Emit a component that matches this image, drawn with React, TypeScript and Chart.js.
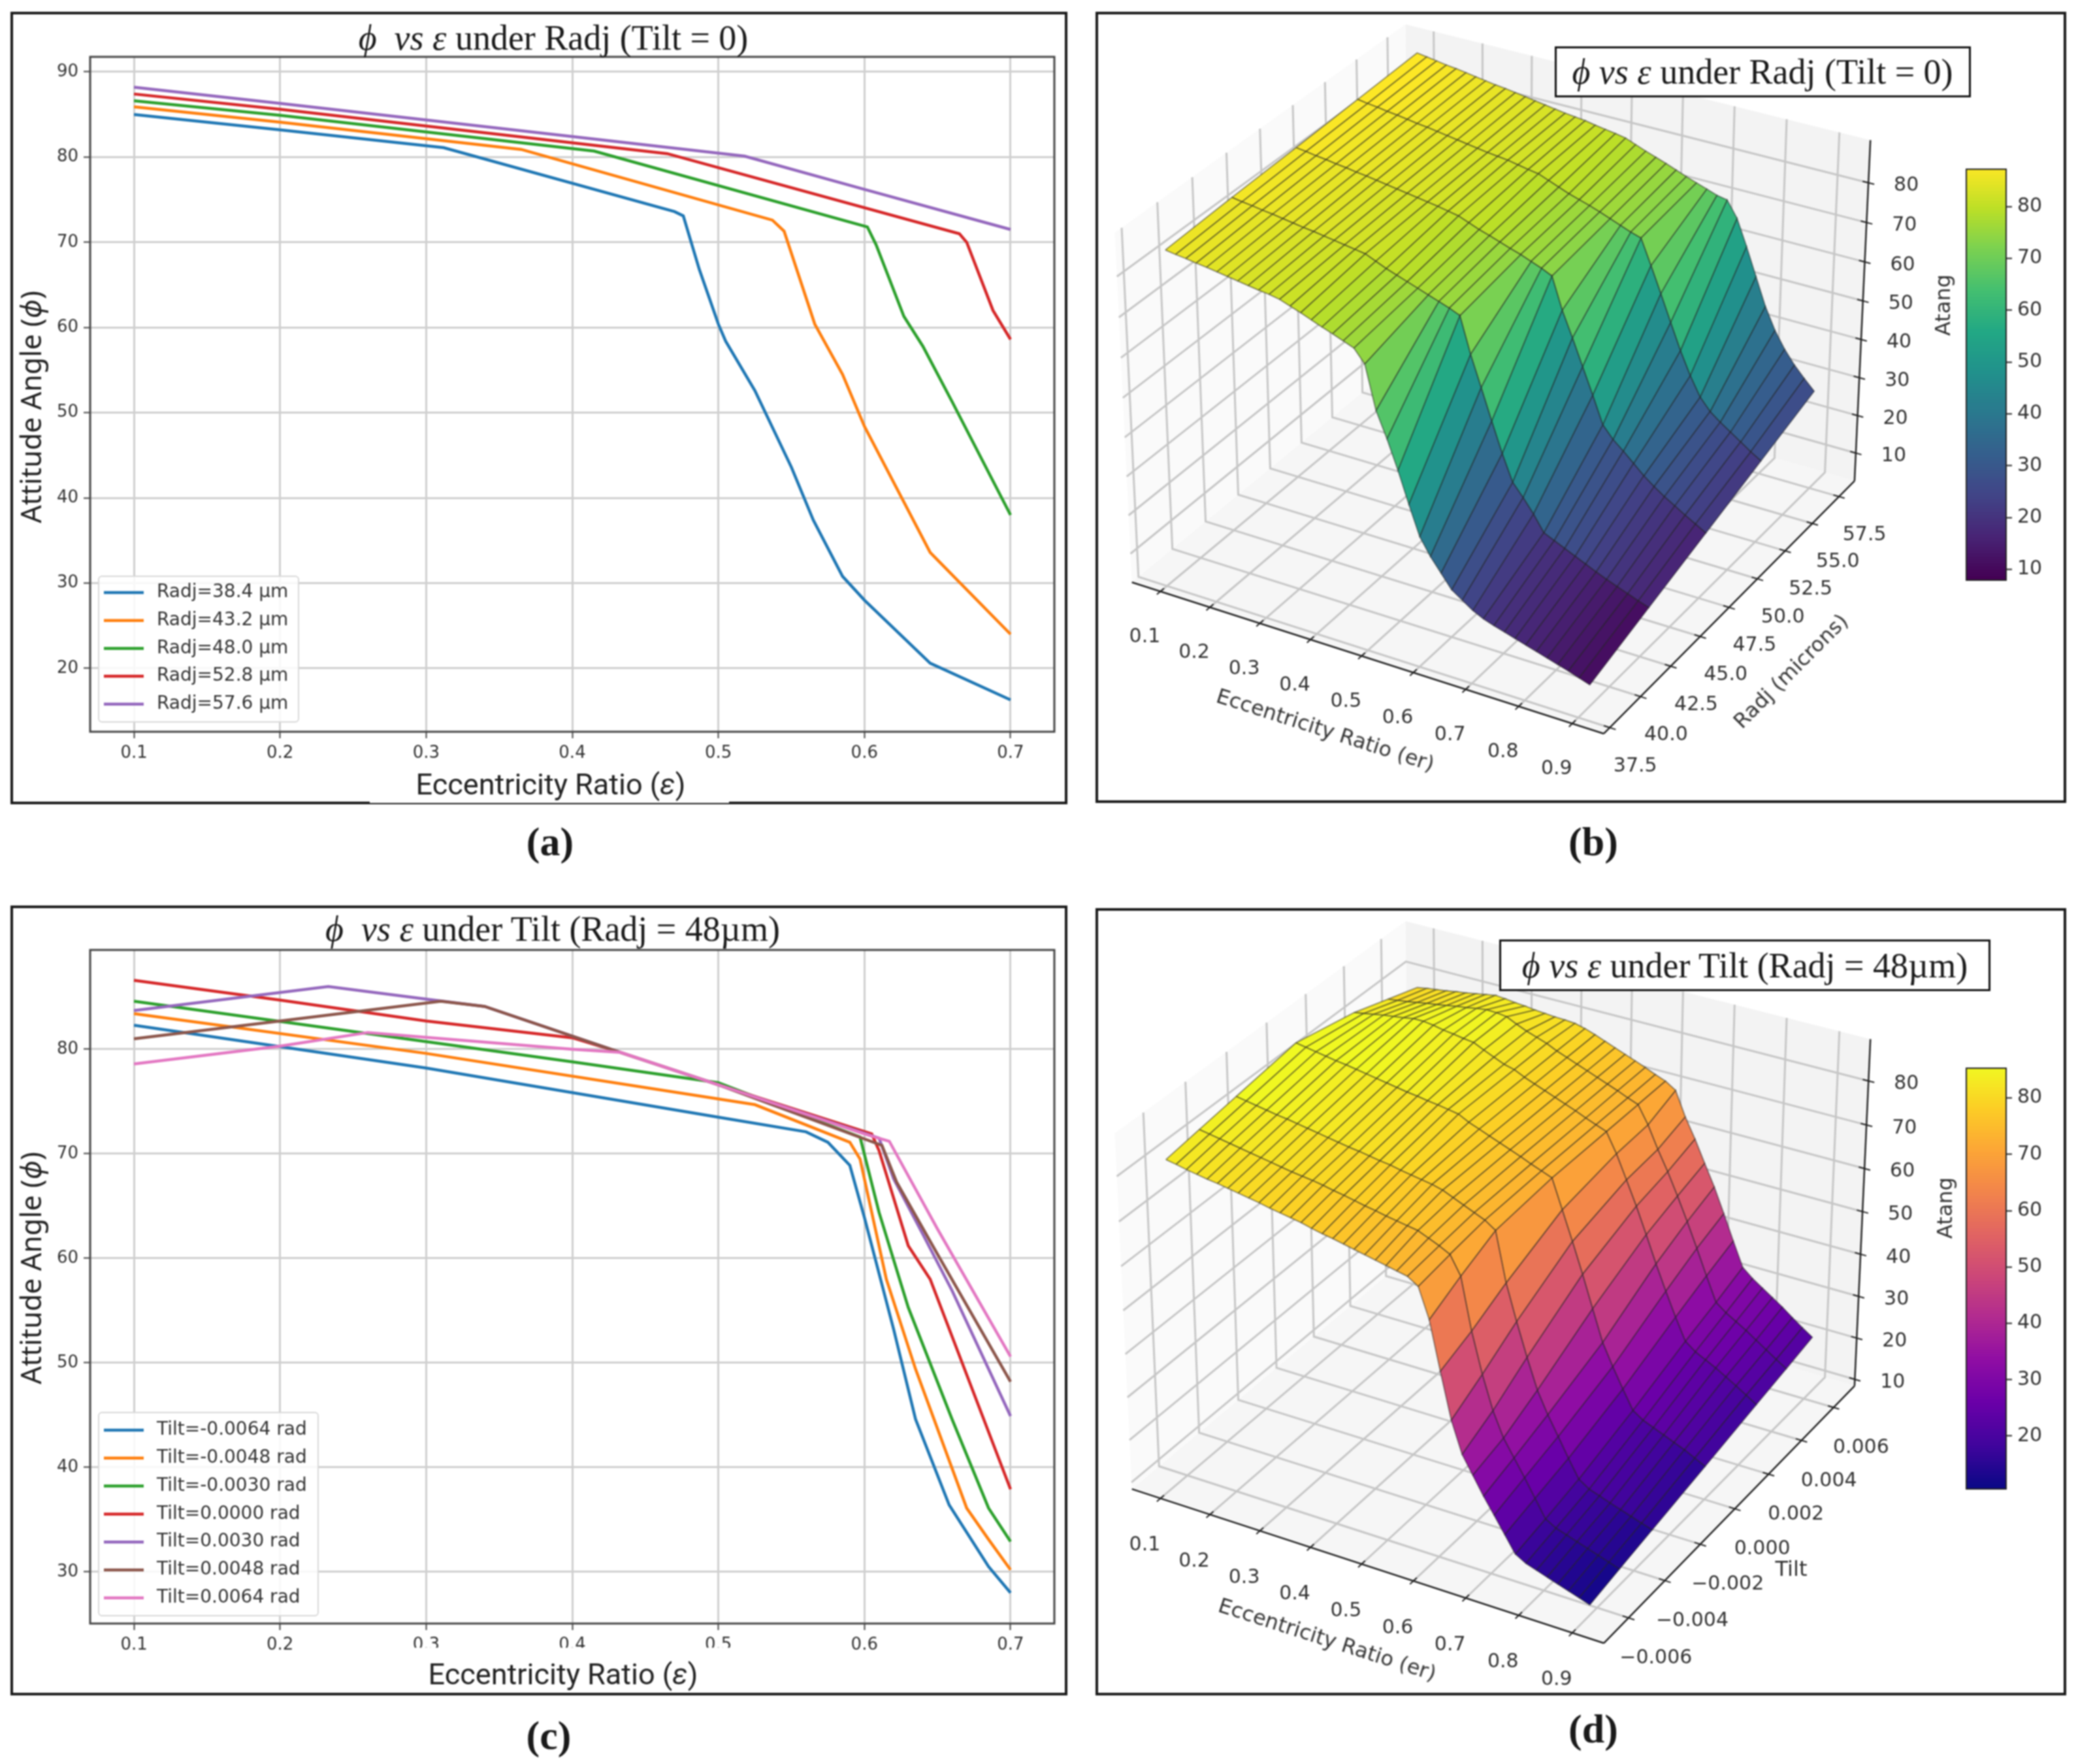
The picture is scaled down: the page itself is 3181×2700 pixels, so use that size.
import { useEffect, useRef, type CSSProperties, type ReactNode } from 'react';
import { Chart, registerables, type ChartConfiguration, type Plugin } from 'chart.js';

Chart.register(...registerables);

const TAB = ['#1f77b4', '#ff7f0e', '#2ca02c', '#d62728', '#9467bd', '#8c564b', '#e377c2'];
const MPL_FONT = '"DejaVu Sans"';

// panel (a): phi vs er, one pair of arrays per Radj
const radjLabels = ['Radj=38.4 µm', 'Radj=43.2 µm', 'Radj=48.0 µm', 'Radj=52.8 µm', 'Radj=57.6 µm'];
const a384Er = [0.1, 0.2, 0.312, 0.47, 0.476, 0.487, 0.5, 0.505, 0.525, 0.55, 0.565, 0.585, 0.6, 0.645, 0.7];
const a384Phi = [85.0, 83.2, 81.1, 73.6, 73.1, 66.8, 60.4, 58.4, 52.6, 43.6, 37.4, 30.8, 28.0, 20.6, 16.3];
const a432Er = [0.1, 0.2, 0.365, 0.537, 0.545, 0.566, 0.585, 0.6, 0.645, 0.7];
const a432Phi = [85.9, 84.1, 80.9, 72.6, 71.3, 60.4, 54.5, 48.4, 33.6, 24.0];
const a480Er = [0.1, 0.2, 0.415, 0.602, 0.608, 0.627, 0.64, 0.66, 0.7];
const a480Phi = [86.6, 84.9, 80.7, 71.8, 69.7, 61.3, 57.8, 51.3, 38.0];
const a528Er = [0.1, 0.2, 0.465, 0.665, 0.67, 0.688, 0.7];
const a528Phi = [87.4, 85.6, 80.4, 71.0, 70.0, 62.0, 58.6];
const a576Er = [0.1, 0.2, 0.4, 0.518, 0.6, 0.7];
const a576Phi = [88.2, 86.3, 82.4, 80.1, 76.2, 71.5];

// panel (c): phi vs er, one pair of arrays per Tilt
const tiltLabels = ['Tilt=-0.0064 rad', 'Tilt=-0.0048 rad', 'Tilt=-0.0030 rad', 'Tilt=0.0000 rad', 'Tilt=0.0030 rad', 'Tilt=0.0048 rad', 'Tilt=0.0064 rad'];
const c1Er = [0.1, 0.3, 0.5, 0.56, 0.575, 0.59, 0.6, 0.62, 0.635, 0.658, 0.685, 0.7];
const c1Phi = [82.3, 78.2, 73.5, 72.1, 71.1, 68.9, 63.9, 53.2, 44.6, 36.4, 30.5, 28.0];
const c2Er = [0.1, 0.3, 0.525, 0.59, 0.597, 0.615, 0.635, 0.67, 0.685, 0.7];
const c2Phi = [83.4, 79.6, 74.7, 71.1, 69.5, 58.0, 49.4, 36.1, 33.1, 30.2];
const c3Er = [0.1, 0.4, 0.5, 0.597, 0.61, 0.63, 0.66, 0.685, 0.7];
const c3Phi = [84.6, 78.8, 76.8, 71.6, 64.4, 55.3, 44.6, 36.1, 32.9];
const c4Er = [0.1, 0.2, 0.3, 0.4, 0.433, 0.5, 0.605, 0.61, 0.63, 0.645, 0.7];
const c4Phi = [86.6, 84.7, 82.7, 81.1, 79.7, 76.6, 71.9, 70.3, 61.2, 58.0, 37.9];
const c5Er = [0.1, 0.233, 0.3, 0.34, 0.433, 0.5, 0.61, 0.62, 0.64, 0.66, 0.7];
const c5Phi = [83.7, 86.0, 84.8, 84.1, 79.7, 76.6, 71.5, 67.6, 62.3, 56.9, 44.9];
const c6Er = [0.1, 0.2, 0.31, 0.34, 0.433, 0.5, 0.612, 0.622, 0.65, 0.7];
const c6Phi = [81.0, 82.7, 84.6, 84.1, 79.7, 76.6, 70.8, 67.3, 60.4, 48.2];
const c7Er = [0.1, 0.2, 0.26, 0.4, 0.433, 0.5, 0.6, 0.617, 0.65, 0.7];
const c7Phi = [78.6, 80.3, 81.6, 80.0, 79.7, 76.6, 71.9, 71.2, 62.8, 50.6];

// surfaces (b) and (d): one row of Atang per Radj / Tilt over erGrid
const erGrid = [0.1, 0.12, 0.14, 0.16, 0.18, 0.2, 0.22, 0.24, 0.26, 0.28, 0.3, 0.32, 0.34, 0.36, 0.38, 0.4, 0.42, 0.44, 0.46, 0.48, 0.5, 0.52, 0.54, 0.56, 0.58, 0.6, 0.62, 0.64, 0.66, 0.68, 0.7, 0.72, 0.74, 0.76, 0.78, 0.8, 0.82, 0.84, 0.86, 0.88, 0.9];
const radjGrid = [38.4, 43.2, 48.0, 52.8, 57.6];
const s384 = [85.0, 84.6, 84.3, 83.9, 83.6, 83.2, 82.8, 82.4, 82.0, 81.6, 81.3, 80.8, 79.9, 79.0, 78.0, 77.0, 76.1, 75.1, 74.1, 71.0, 60.4, 54.2, 47.2, 39.5, 32.2, 28.0, 24.6, 21.2, 19.4, 17.6, 16.3, 15.4, 14.6, 13.8, 13.0, 12.2, 11.4, 10.6, 9.8, 8.9, 8.0];
const s432 = [85.9, 85.5, 85.2, 84.8, 84.5, 84.1, 83.7, 83.3, 83.0, 82.6, 82.2, 81.8, 81.4, 81.0, 79.9, 78.8, 77.9, 77.0, 76.1, 75.2, 74.3, 73.4, 72.3, 63.5, 56.0, 48.4, 41.0, 34.5, 31.4, 28.0, 24.0, 22.8, 21.6, 20.4, 19.2, 18.0, 16.9, 15.9, 14.9, 13.9, 13.0];
const s480 = [86.6, 86.3, 85.9, 85.6, 85.2, 84.9, 84.5, 84.2, 83.8, 83.4, 83.0, 82.6, 82.2, 81.8, 81.4, 80.9, 80.4, 79.4, 78.4, 77.6, 76.7, 75.8, 75.0, 74.0, 73.0, 71.8, 64.0, 57.8, 51.3, 44.8, 38.0, 35.0, 32.8, 30.4, 28.0, 26.0, 24.2, 22.6, 21.0, 19.5, 18.0];
const s528 = [87.4, 87.0, 86.7, 86.3, 86.0, 85.6, 85.2, 84.9, 84.5, 84.1, 83.7, 83.3, 82.9, 82.5, 82.2, 81.9, 81.4, 80.9, 80.5, 79.5, 78.5, 77.5, 76.7, 75.9, 75.0, 74.0, 73.0, 72.0, 71.2, 65.0, 58.6, 52.0, 45.5, 39.8, 35.0, 32.0, 30.0, 28.2, 26.4, 24.6, 23.0];
const s576 = [88.2, 87.8, 87.4, 87.0, 86.7, 86.3, 85.9, 85.5, 85.1, 84.8, 84.4, 84.0, 83.6, 83.2, 82.8, 82.4, 82.1, 81.8, 81.3, 80.9, 80.5, 80.0, 79.0, 78.0, 77.1, 76.2, 75.2, 74.2, 73.3, 72.4, 71.5, 71.0, 67.0, 60.5, 53.5, 46.5, 41.0, 36.8, 33.4, 30.6, 28.0];

const tiltGrid = [-0.0064, -0.0048, -0.003, 0, 0.003, 0.0048, 0.0064];
const t1 = [82.3, 81.9, 81.4, 81.0, 80.6, 80.3, 79.9, 79.5, 79.1, 78.7, 78.2, 77.8, 77.4, 77.0, 76.4, 75.9, 75.5, 75.0, 74.5, 74.0, 73.5, 73.0, 72.5, 72.0, 70.5, 63.9, 53.2, 43.0, 36.0, 32.0, 28.0, 24.4, 20.7, 17.0, 15.6, 14.8, 14.0, 13.2, 12.4, 11.6, 10.8];
const t2 = [83.4, 83.0, 82.6, 82.2, 81.8, 81.4, 81.0, 80.6, 80.2, 79.8, 79.5, 79.2, 78.8, 78.3, 77.9, 77.4, 76.9, 76.5, 76.0, 75.6, 75.2, 74.8, 73.8, 72.8, 71.6, 67.5, 56.0, 47.0, 39.5, 34.0, 30.2, 26.4, 22.4, 18.4, 17.0, 16.2, 15.4, 14.6, 13.8, 13.0, 12.2];
const t3 = [84.6, 84.2, 83.8, 83.4, 83.0, 82.7, 82.3, 81.9, 81.5, 81.1, 80.7, 80.3, 80.0, 79.6, 79.2, 78.9, 78.4, 78.0, 77.6, 77.2, 76.6, 75.6, 74.6, 73.6, 72.6, 71.0, 60.0, 52.0, 44.6, 37.8, 32.9, 28.6, 24.3, 20.2, 18.6, 17.8, 16.9, 16.1, 15.3, 14.5, 13.7];
const t4 = [86.6, 86.2, 85.8, 85.4, 85.0, 84.7, 84.3, 83.9, 83.5, 83.1, 82.7, 82.3, 82.0, 81.6, 81.3, 80.9, 80.5, 79.3, 78.4, 77.5, 76.6, 75.7, 74.8, 73.8, 72.9, 72.0, 65.5, 59.0, 52.2, 45.0, 37.9, 33.0, 28.5, 24.2, 22.6, 21.6, 20.6, 19.6, 18.6, 17.4, 16.2];
const t5 = [83.7, 84.1, 84.5, 84.9, 85.2, 85.5, 85.9, 85.9, 85.6, 85.1, 84.8, 84.4, 84.1, 83.0, 82.0, 81.0, 80.4, 79.3, 78.4, 77.5, 76.6, 75.7, 74.8, 73.8, 72.9, 72.0, 67.6, 62.3, 56.9, 51.0, 44.9, 39.2, 33.8, 28.8, 27.0, 25.8, 24.6, 23.2, 21.8, 20.3, 18.8];
const t6 = [81.0, 81.3, 81.6, 82.0, 82.4, 82.7, 83.1, 83.5, 83.8, 84.2, 84.5, 84.4, 84.1, 83.0, 82.0, 81.2, 80.4, 79.3, 78.4, 77.5, 76.6, 75.7, 74.8, 73.9, 72.9, 72.0, 68.0, 63.0, 58.5, 53.5, 48.2, 42.6, 36.8, 31.2, 29.4, 28.0, 26.6, 25.0, 23.4, 21.8, 20.3];
const t7 = [78.6, 79.0, 79.3, 79.6, 80.0, 80.3, 80.7, 81.1, 81.5, 81.3, 81.0, 80.8, 80.5, 80.3, 80.1, 80.0, 79.8, 79.2, 78.4, 77.5, 76.6, 75.7, 74.8, 73.9, 72.9, 72.0, 70.5, 65.0, 60.5, 55.5, 50.6, 45.0, 39.2, 33.6, 31.6, 30.0, 28.4, 26.8, 25.0, 23.3, 21.7];

const erTicks = [0.1, 0.2, 0.3, 0.4, 0.5, 0.6, 0.7, 0.8, 0.9];
const radjTicks = [37.5, 40, 42.5, 45, 47.5, 50, 52.5, 55, 57.5];
const tiltTicks = [-0.006, -0.004, -0.002, 0, 0.002, 0.004, 0.006];
const atangTicks = [10, 20, 30, 40, 50, 60, 70, 80];

const VIRIDIS = ['#440154', '#482475', '#414487', '#355f8d', '#2a788e', '#21918c', '#22a884', '#44bf70', '#7ad151', '#bddf26', '#fde725'];
const PLASMA = ['#0d0887', '#41049d', '#6a00a8', '#8f0da4', '#b12a90', '#cc4778', '#e16462', '#f2844b', '#fca636', '#fcce25', '#f0f921'];

function cmap(stops: string[], t: number) {
  const c = Math.min(1, Math.max(0, t)) * (stops.length - 1);
  const i = Math.min(stops.length - 2, Math.floor(c));
  const f = c - i;
  const rgb = (h: string) => [1, 3, 5].map(k => parseInt(h.slice(k, k + 2), 16));
  const a = rgb(stops[i]);
  const b = rgb(stops[i + 1]);
  return `rgb(${a.map((v, k) => Math.round(v + (b[k] - v) * f)).join(',')})`;
}

// ---- 2D line panels ----
const framePlugin: Plugin = {
  id: 'spines',
  afterDatasetsDraw(chart) {
    const { ctx, chartArea: a } = chart;
    ctx.save();
    ctx.strokeStyle = '#444';
    ctx.lineWidth = 3;
    ctx.strokeRect(a.left, a.top, a.right - a.left, a.bottom - a.top);
    ctx.restore();
  },
};

function legendPlugin(box: number[], firstY: number, stepY: number): Plugin {
  return {
    id: 'boxLegend',
    afterDraw(chart) {
      const { ctx } = chart;
      const [x, y, w, h] = box;
      ctx.save();
      ctx.fillStyle = 'rgba(255,255,255,0.85)';
      ctx.strokeStyle = '#d8d8d8';
      ctx.lineWidth = 2;
      ctx.beginPath();
      ctx.roundRect(x, y, w, h, 5);
      ctx.fill();
      ctx.stroke();
      ctx.font = `28px ${MPL_FONT}`;
      ctx.textBaseline = 'middle';
      chart.data.datasets.forEach((ds, i) => {
        const ly = firstY + i * stepY;
        ctx.strokeStyle = ds.borderColor as string;
        ctx.lineWidth = 4.5;
        ctx.beginPath();
        ctx.moveTo(x + 8, ly);
        ctx.lineTo(x + 69, ly);
        ctx.stroke();
        ctx.fillStyle = '#333';
        ctx.fillText(ds.label as string, x + 89, ly);
      });
      ctx.restore();
    },
  };
}

function lineConfig(labels: string[], xs: number[][], ys: number[][], yMin: number, yMax: number, yTop: number, height: number, legend: Plugin): ChartConfiguration {
  return {
    type: 'scatter',
    data: {
      datasets: labels.map((label, i) => ({
        label,
        data: xs[i].map((x, k) => ({ x, y: ys[i][k] })),
        showLine: true,
        borderColor: TAB[i],
        backgroundColor: TAB[i],
        borderWidth: 4.5,
        pointRadius: 0,
        tension: 0,
        order: labels.length - i,
      })),
    },
    options: {
      responsive: false,
      animation: false,
      layout: { padding: { top: yTop, right: 20 } },
      plugins: { legend: { display: false }, tooltip: { enabled: false } },
      scales: {
        x: {
          type: 'linear',
          min: 0.07,
          max: 0.73,
          afterFit: (s: any) => { s.height = height; },
          border: { display: false },
          grid: { color: '#cfcfcf', lineWidth: 3, tickLength: 10, tickColor: '#444', tickWidth: 2 },
          ticks: { stepSize: 0.1, includeBounds: false, color: '#333', font: { family: MPL_FONT, size: 26 }, padding: 8, maxRotation: 0, callback: (v: any) => Number(v).toFixed(1) },
        },
        y: {
          min: yMin,
          max: yMax,
          afterFit: (s: any) => { s.width = 122; },
          border: { display: false },
          grid: { color: '#cfcfcf', lineWidth: 3, tickLength: 10, tickColor: '#444', tickWidth: 2 },
          ticks: { stepSize: 10, includeBounds: false, color: '#333', font: { family: MPL_FONT, size: 26 }, padding: 8 },
        },
      },
    },
    plugins: [framePlugin, legend],
  };
}

// ---- 3D surface panels (matplotlib's default view: elev 30, azim -60) ----
interface Surface3D {
  xLim: number[];
  yLim: number[];
  zLim: number[];
  xTicks: number[];
  yTicks: number[];
  zTicks: number[];
  ys: number[];
  rows: number[][];
  stops: string[];
  vMin: number;
  vMax: number;
  yFmt: (v: number) => string;
  yOffset: number[];
  xOffset: number[];
  cx: number;
  cy: number;
  sx: number;
  sy: number;
}

function projector(s: Surface3D) {
  return (x: number, y: number, z: number) => {
    const px = ((x - s.xLim[0]) / (s.xLim[1] - s.xLim[0]) - 0.5) * 1.1905;
    const py = ((y - s.yLim[0]) / (s.yLim[1] - s.yLim[0]) - 0.5) * 1.1905;
    const pz = ((z - s.zLim[0]) / (s.zLim[1] - s.zLim[0]) - 0.5) * 0.8929;
    const d = 10 - (0.433 * px - 0.75 * py + 0.5 * pz);
    return { x: (0.866 * px + 0.5 * py) / d, y: (-0.25 * px + 0.433 * py + 0.866 * pz) / d, d };
  };
}

function surfaceConfig(s: Surface3D, left: number, top: number, width: number, height: number): ChartConfiguration {
  const P = projector(s);
  const [x0, x1] = s.xLim;
  const [y0, y1] = s.yLim;
  const [z0, z1] = s.zLim;
  const datasets: any[] = [];

  const poly = (pts: { x: number; y: number }[], fill: string | null, stroke: string | null, w: number) => ({
    data: pts.map(p => ({ x: p.x, y: p.y })),
    showLine: true,
    fill: fill ? 'shape' : false,
    backgroundColor: fill ?? 'transparent',
    borderColor: stroke ?? 'transparent',
    borderWidth: w,
    pointRadius: 0,
    tension: 0,
  });

  // surface quads, nearest first since Chart.js paints dataset 0 last
  const quads: { d: number; ds: any }[] = [];
  for (let r = 0; r < s.rows.length - 1; r++) {
    for (let c = 0; c < erGrid.length - 1; c++) {
      const corners = [
        P(erGrid[c], s.ys[r], s.rows[r][c]),
        P(erGrid[c + 1], s.ys[r], s.rows[r][c + 1]),
        P(erGrid[c + 1], s.ys[r + 1], s.rows[r + 1][c + 1]),
        P(erGrid[c], s.ys[r + 1], s.rows[r + 1][c]),
      ];
      const avg = (s.rows[r][c] + s.rows[r][c + 1] + s.rows[r + 1][c + 1] + s.rows[r + 1][c]) / 4;
      const col = cmap(s.stops, (avg - s.vMin) / (s.vMax - s.vMin));
      quads.push({
        d: corners.reduce((t, p) => t + p.d, 0) / 4,
        ds: poly([...corners, corners[0]], col, 'rgba(30,30,30,0.5)', 1.8),
      });
    }
  }
  quads.sort((a, b) => a.d - b.d);
  quads.forEach(q => datasets.push(q.ds));

  // axis lines and tick marks
  const black = '#222';
  const tx = (x1 - x0) * 0.012;
  const ty = (y1 - y0) * 0.012;
  s.xTicks.forEach(v => datasets.push(poly([P(v, y0 - ty, z0), P(v, y0 + ty, z0)], null, black, 2)));
  s.yTicks.forEach(v => datasets.push(poly([P(x1 - tx, v, z0), P(x1 + tx, v, z0)], null, black, 2)));
  s.zTicks.forEach(v => datasets.push(poly([P(x1 - tx, y1, v), P(x1 + tx, y1, v)], null, black, 2)));
  datasets.push(poly([P(x0, y0, z0), P(x1, y0, z0)], null, black, 2.5));
  datasets.push(poly([P(x1, y0, z0), P(x1, y1, z0)], null, black, 2.5));
  datasets.push(poly([P(x1, y1, z0), P(x1, y1, z1)], null, black, 2.5));

  // grid lines on the three back panes
  const grid = '#c6c6c6';
  s.xTicks.forEach(v => {
    datasets.push(poly([P(v, y0, z0), P(v, y1, z0), P(v, y1, z1)], null, grid, 3));
  });
  s.yTicks.forEach(v => {
    datasets.push(poly([P(x1, v, z0), P(x0, v, z0), P(x0, v, z1)], null, grid, 3));
  });
  s.zTicks.forEach(v => {
    datasets.push(poly([P(x0, y0, v), P(x0, y1, v), P(x1, y1, v)], null, grid, 3));
  });

  // panes
  datasets.push(poly([P(x0, y0, z0), P(x1, y0, z0), P(x1, y1, z0), P(x0, y1, z0), P(x0, y0, z0)], '#f6f6f6', null, 0));
  datasets.push(poly([P(x0, y0, z0), P(x0, y1, z0), P(x0, y1, z1), P(x0, y0, z1), P(x0, y0, z0)], '#fafafa', null, 0));
  datasets.push(poly([P(x0, y1, z0), P(x1, y1, z0), P(x1, y1, z1), P(x0, y1, z1), P(x0, y1, z0)], '#f3f3f3', null, 0));

  const tickText: Plugin = {
    id: 'ticks3d',
    afterDraw(chart) {
      const { ctx, scales } = chart;
      ctx.save();
      ctx.font = `30px ${MPL_FONT}`;
      ctx.fillStyle = '#333';
      ctx.textAlign = 'center';
      ctx.textBaseline = 'middle';
      const put = (p: { x: number; y: number }, text: string, off: number[]) => {
        ctx.fillText(text, scales.x.getPixelForValue(p.x) + off[0], scales.y.getPixelForValue(p.y) + off[1]);
      };
      s.xTicks.forEach(v => put(P(v, y0, z0), v.toFixed(1), s.xOffset));
      s.yTicks.forEach(v => put(P(x1, v, z0), s.yFmt(v), s.yOffset));
      s.zTicks.forEach(v => put(P(x1, y1, v), String(v), [58, 5]));
      ctx.restore();
    },
  };

  return {
    type: 'scatter',
    data: { datasets },
    options: {
      responsive: false,
      animation: false,
      plugins: { legend: { display: false }, tooltip: { enabled: false } },
      scales: {
        x: { display: false, type: 'linear', min: (left - s.cx) / s.sx, max: (left + width - s.cx) / s.sx },
        y: { display: false, min: (s.cy - top - height) / s.sy, max: (s.cy - top) / s.sy },
      },
    },
    plugins: [tickText],
  };
}

function colorbarConfig(stops: string[], vMin: number, vMax: number): ChartConfiguration {
  const n = 128;
  const levels = Array.from({ length: n }, (_, i) => vMin + ((vMax - vMin) * i) / n);
  const outline: Plugin = {
    id: 'cbOutline',
    afterDraw(chart) {
      const { ctx, chartArea: a } = chart;
      ctx.save();
      ctx.strokeStyle = '#222';
      ctx.lineWidth = 2;
      ctx.strokeRect(a.left, a.top, a.right - a.left, a.bottom - a.top);
      ctx.restore();
    },
  };
  return {
    type: 'bar',
    data: {
      labels: [''],
      datasets: levels.map(v => ({
        data: [[v, v + (vMax - vMin) / n + 0.1]] as any,
        backgroundColor: cmap(stops, (v - vMin) / (vMax - vMin)),
        barPercentage: 1,
        categoryPercentage: 1,
        grouped: false,
      })),
    },
    options: {
      responsive: false,
      animation: false,
      layout: { padding: { left: 2, top: 2, bottom: 2 } },
      plugins: { legend: { display: false }, tooltip: { enabled: false } },
      scales: {
        x: { display: false },
        y: {
          position: 'right',
          min: vMin,
          max: vMax,
          // the bar has to reach the full height, so drop the room kept for label overhang
          afterFit: (s: any) => { s.width = 92; s.paddingTop = 0; s.paddingBottom = 0; },
          border: { display: false },
          grid: { drawOnChartArea: false, tickLength: 9, tickColor: '#222', tickWidth: 2 },
          ticks: { stepSize: 10, includeBounds: false, color: '#333', font: { family: MPL_FONT, size: 30 }, padding: 8 },
        },
      },
    },
    plugins: [outline],
  };
}

// ---- page pieces ----
function ChartCanvas({ config, left, top, width, height }: { config: () => ChartConfiguration; left: number; top: number; width: number; height: number }) {
  const ref = useRef<HTMLCanvasElement>(null);
  useEffect(() => {
    if (!ref.current) return;
    const chart = new Chart(ref.current, config());
    return () => chart.destroy();
  }, []); // eslint-disable-line react-hooks/exhaustive-deps
  return <canvas ref={ref} width={width} height={height} style={{ position: 'absolute', left, top, width, height }} />;
}

function Label({ x, y, rotate = 0, style, children }: { x: number; y: number; rotate?: number; style?: CSSProperties; children: ReactNode }) {
  return (
    <div style={{ position: 'absolute', left: x, top: y, whiteSpace: 'pre', transform: `translate(-50%,-50%) rotate(${rotate}deg)`, color: '#222', ...style }}>
      {children}
    </div>
  );
}

function Frame({ x0, y0, x1, y1 }: { x0: number; y0: number; x1: number; y1: number }) {
  return <div style={{ position: 'absolute', left: x0, top: y0, width: x1 - x0, height: y1 - y0, boxSizing: 'border-box', border: '4px solid #1a1a1a', pointerEvents: 'none' }} />;
}

const serif: CSSProperties = { fontFamily: '"Liberation Serif", serif', fontSize: 54, color: '#1a1a1a' };
const letter: CSSProperties = { ...serif, fontSize: 62, fontWeight: 700 };
const axisFont: CSSProperties = { fontFamily: 'Roboto, sans-serif', fontSize: 45, color: '#222' };
const yAxisFont: CSSProperties = { fontFamily: '"Noto Sans", sans-serif', fontSize: 43, color: '#222' };
const mplTitle: CSSProperties = { fontFamily: MPL_FONT, fontSize: 32, color: '#333' };

const surfB: Surface3D = {
  xLim: [0.0417, 0.9583], yLim: [37.02, 58.98], zLim: [2.5, 90.6],
  xTicks: erTicks, yTicks: radjTicks, zTicks: atangTicks,
  ys: radjGrid, rows: [s384, s432, s480, s528, s576],
  stops: VIRIDIS, vMin: 7.9, vMax: 87.2,
  yFmt: v => v.toFixed(1), xOffset: [-24, 70], yOffset: [39, 59],
  cx: 2296, cy: 554, sx: 6952, sy: 6828,
};

const surfD: Surface3D = {
  xLim: [0.0417, 0.9583], yLim: [-0.00733, 0.00733], zLim: [8.4, 89.4],
  xTicks: erTicks, yTicks: tiltTicks, zTicks: atangTicks,
  ys: tiltGrid, rows: [t1, t2, t3, t4, t5, t6, t7],
  stops: PLASMA, vMin: 10.6, vMax: 85.3,
  yFmt: v => v.toFixed(3).replace('-', '\u2212'), xOffset: [-24, 72], yOffset: [42, 62],
  cx: 2296, cy: 1936, sx: 6952, sy: 6949,
};

export default function App() {
  return (
    <div style={{ position: 'absolute', left: 0, top: 0, width: 3181, height: 2700, background: '#fff', overflow: 'hidden', filter: 'blur(0.8px)' }}>
      <ChartCanvas
        left={16} top={20} width={1618} height={1210}
        config={() => lineConfig(radjLabels, [a384Er, a432Er, a480Er, a528Er, a576Er], [a384Phi, a432Phi, a480Phi, a528Phi, a576Phi], 12.56, 91.76, 67, 110, legendPlugin([135, 862, 306, 223], 887, 42.7))}
      />
      <ChartCanvas
        left={16} top={1388} width={1618} height={1206}
        config={() => lineConfig(tiltLabels, [c1Er, c2Er, c3Er, c4Er, c5Er, c6Er, c7Er], [c1Phi, c2Phi, c3Phi, c4Phi, c5Phi, c6Phi, c7Phi], 25.06, 89.5, 66, 109, legendPlugin([135, 774, 336, 311], 801, 42.8))}
      />
      <ChartCanvas left={1681} top={22} width={1478} height={1203} config={() => surfaceConfig(surfB, 1681, 22, 1478, 1203)} />
      <ChartCanvas left={1681} top={1394} width={1478} height={1197} config={() => surfaceConfig(surfD, 1681, 1394, 1478, 1197)} />
      <ChartCanvas left={3008} top={257} width={155} height={633} config={() => colorbarConfig(VIRIDIS, 7.9, 87.2)} />
      <ChartCanvas left={3008} top={1633} width={155} height={648} config={() => colorbarConfig(PLASMA, 10.6, 85.3)} />

      <Frame x0={16} y0={18} x1={1634} y1={1231} />
      <Frame x0={1677} y0={18} x1={3163} y1={1229} />
      <Frame x0={16} y0={1386} x1={1634} y1={2595} />
      <Frame x0={1677} y0={1390} x1={3163} y1={2595} />

      {/* panel titles */}
      <Label x={847} y={58} style={serif}><i>ϕ  vs ε</i> under Radj (Tilt = 0)</Label>
      <Label x={846} y={1422} style={serif}><i>ϕ  vs ε</i> under Tilt (Radj = 48µm)</Label>
      <div style={{ position: 'absolute', left: 2380, top: 71, width: 637, height: 78, boxSizing: 'border-box', border: '3px solid #111', background: '#fff' }} />
      <Label x={2698} y={110} style={serif}><i>ϕ vs ε</i> under Radj (Tilt = 0)</Label>
      <div style={{ position: 'absolute', left: 2295, top: 1438, width: 752, height: 79, boxSizing: 'border-box', border: '3px solid #111', background: '#fff' }} />
      <Label x={2671} y={1478} style={serif}><i>ϕ vs ε</i> under Tilt (Radj = 48µm)</Label>

      {/* 2D axis titles, the white boxes clip the frame and tick labels as in the figure */}
      <div style={{ position: 'absolute', left: 566, top: 1172, width: 550, height: 57, background: '#fff' }} />
      <Label x={843} y={1200} style={axisFont}>Eccentricity Ratio (<i>ε</i>)</Label>
      <div style={{ position: 'absolute', left: 560, top: 2522, width: 580, height: 60, background: '#fff' }} />
      <Label x={862} y={2562} style={axisFont}>Eccentricity Ratio (<i>ε</i>)</Label>
      <Label x={46} y={623} rotate={-90} style={yAxisFont}>Attitude Angle (<i>ϕ</i>)</Label>
      <Label x={46} y={1941} rotate={-90} style={yAxisFont}>Attitude Angle (<i>ϕ</i>)</Label>

      {/* 3D axis titles */}
      <Label x={2029} y={1117} rotate={17.8} style={mplTitle}>Eccentricity Ratio (er)</Label>
      <Label x={2741} y={1027} rotate={-45} style={mplTitle}>Radj (microns)</Label>
      <Label x={2974} y={467} rotate={-90} style={mplTitle}>Atang</Label>
      <Label x={2032} y={2509} rotate={17.8} style={mplTitle}>Eccentricity Ratio (er)</Label>
      <Label x={2742} y={2401} style={mplTitle}>Tilt</Label>
      <Label x={2977} y={1849} rotate={-90} style={mplTitle}>Atang</Label>

      {/* sub-figure letters */}
      <Label x={842} y={1288} style={letter}>(a)</Label>
      <Label x={2439} y={1288} style={letter}>(b)</Label>
      <Label x={840} y={2656} style={letter}>(c)</Label>
      <Label x={2439} y={2646} style={letter}>(d)</Label>
    </div>
  );
}
